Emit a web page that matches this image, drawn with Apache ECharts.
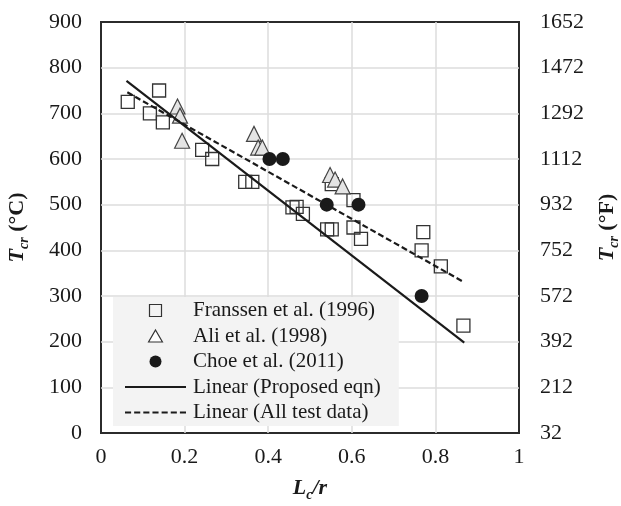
<!DOCTYPE html>
<html>
<head>
<meta charset="utf-8">
<script src="https://cdn.jsdelivr.net/npm/echarts@6/dist/echarts.min.js"></script>
<style>
html,body{margin:0;padding:0;background:#fff;}
#chart{width:621px;height:506px;}
</style>
</head>
<body>
<div id="chart"></div>
<script>
// ---- data ----
var franssenX = [0.064, 0.139, 0.117, 0.148, 0.242, 0.266, 0.345, 0.362, 0.458, 0.468, 0.483, 0.541, 0.552, 0.552, 0.604, 0.604, 0.622, 0.771, 0.767, 0.813, 0.867];
var franssenY = [725, 750, 700, 680, 620, 600, 550, 550, 494, 495, 480, 446, 446, 545, 510, 450, 425, 440, 400, 365, 235];
var aliX = [0.183, 0.189, 0.194, 0.366, 0.376, 0.386, 0.548, 0.560, 0.578];
var aliY = [715, 695, 640, 655, 625, 625, 565, 555, 540];
var choeX = [0.403, 0.435, 0.540, 0.616, 0.767];
var choeY = [600, 600, 500, 500, 300];
var proposedX = [0.061, 0.869];
var proposedY = [771, 198];
var allDataX = [0.063, 0.869];
var allDataY = [746, 330];
var xTicks = ['0', '0.2', '0.4', '0.6', '0.8', '1'];
var cTicks = ['0', '100', '200', '300', '400', '500', '600', '700', '800', '900'];
var fTicks = ['32', '212', '392', '572', '752', '932', '1112', '1292', '1472', '1652'];
var seriesNames = ['Franssen et al. (1996)', 'Ali et al. (1998)', 'Choe et al. (2011)', 'Linear (Proposed eqn)', 'Linear (All test data)'];

function zip(a, b) { return a.map(function (v, i) { return [v, b[i]]; }); }

var FONT = 'Liberation Serif';
var TXT = '#1a1a1a';
var GRIDC = '#dcdcdc';

// legend icons as paths (keep aspect)
var squareIcon = 'path://M0,0h10v10h-10z';
var triangleIcon = 'path://M6,0L12,10.4L0,10.4z';
var solidIcon = 'path://M0,0h60v2.2h-60z';
var dashedIcon = (function () {
  var p = 'path://';
  for (var x = 0; x < 60; x += 9) { p += 'M' + x + ',0h6v2.2h-6z'; }
  return p;
})();

var nameRich = {
  t: { fontFamily: FONT, fontSize: 22, fontWeight: 'bold', fontStyle: 'italic', color: TXT, lineHeight: 28, verticalAlign: 'middle' },
  s: { fontFamily: FONT, fontSize: 14, fontWeight: 'bold', fontStyle: 'italic', color: TXT, lineHeight: 14, verticalAlign: 'bottom' },
  u: { fontFamily: FONT, fontSize: 22, fontWeight: 'bold', color: TXT, lineHeight: 28, verticalAlign: 'middle' }
};

var chart = echarts.init(document.getElementById('chart'), null, { renderer: 'canvas' });

var yBase = {
  type: 'value', min: 0, max: 900, interval: 100,
  axisLine: { show: false }, axisTick: { show: false },
  nameLocation: 'middle', nameRotate: 90,
  nameTextStyle: { rich: nameRich }
};

var option = {
  animation: false,
  backgroundColor: '#fff',
  grid: {
    left: 101, right: 102, top: 22, bottom: 73,
    outerBoundsMode: 'none', containLabel: false,
    show: true, borderColor: '#2b2b2b', borderWidth: 2, backgroundColor: 'transparent'
  },
  xAxis: {
    type: 'value', min: 0, max: 1, interval: 0.2,
    axisLine: { show: false }, axisTick: { show: false },
    splitLine: { show: true, showMinLine: false, showMaxLine: false, lineStyle: { color: GRIDC, width: 1.5 } },
    axisLabel: {
      margin: 13, fontFamily: FONT, fontSize: 22, color: TXT,
      formatter: function (v) { return xTicks[Math.round(v / 0.2)]; }
    },
    name: '{t|L}{s|c}{t|/r}',
    nameLocation: 'middle', nameGap: 41,
    nameTextStyle: { rich: nameRich }
  },
  yAxis: [
    Object.assign({}, yBase, {
      position: 'left',
      name: '{t|T}{s|cr}{u| (°C)}', nameGap: 70,
      splitLine: { show: true, showMinLine: false, showMaxLine: false, lineStyle: { color: GRIDC, width: 1.5 } },
      axisLabel: {
        margin: 19, fontFamily: FONT, fontSize: 22, color: TXT,
        formatter: function (v) { return cTicks[Math.round(v / 100)]; }
      }
    }),
    Object.assign({}, yBase, {
      position: 'right',
      name: '{t|T}{s|cr}{u| (°F)}', nameGap: 74,
      splitLine: { show: false },
      axisLabel: {
        margin: 21, fontFamily: FONT, fontSize: 22, color: TXT,
        formatter: function (v) { return fTicks[Math.round(v / 100)]; }
      }
    })
  ],
  legend: {
    orient: 'vertical', left: 113, top: 297,
    backgroundColor: '#f3f3f3', borderWidth: 0,
    padding: [3, 18, 3, 12],
    itemWidth: 61, itemHeight: 12, itemGap: 4.5,
    symbolKeepAspect: true,
    textStyle: { fontFamily: FONT, fontSize: 21, color: TXT, padding: [0, 0, 0, 2] },
    data: [
      { name: seriesNames[0], icon: squareIcon, itemStyle: { color: 'rgba(255,255,255,0)', borderColor: '#333', borderWidth: 1.2 } },
      { name: seriesNames[1], icon: triangleIcon, itemStyle: { color: '#ffffff', borderColor: '#333', borderWidth: 1.2 } },
      { name: seriesNames[2], icon: 'circle' },
      { name: seriesNames[3], icon: solidIcon },
      { name: seriesNames[4], icon: dashedIcon }
    ]
  },
  series: [
    {
      name: seriesNames[0], type: 'scatter', yAxisIndex: 0,
      symbol: 'rect', symbolSize: 13,
      itemStyle: { color: 'rgba(255,255,255,0)', borderColor: '#333', borderWidth: 1.3, opacity: 1 },
      data: zip(franssenX, franssenY), z: 2
    },
    {
      name: seriesNames[1], type: 'scatter', yAxisIndex: 0,
      symbol: 'triangle', symbolSize: 15,
      itemStyle: { color: '#e4e4e4', borderColor: '#444', borderWidth: 1.2, opacity: 1 },
      data: zip(aliX, aliY), z: 2
    },
    {
      name: seriesNames[2], type: 'scatter', yAxisIndex: 0,
      symbol: 'circle', symbolSize: 14,
      itemStyle: { color: '#1a1a1a', opacity: 1 },
      data: zip(choeX, choeY), z: 2
    },
    {
      name: seriesNames[3], type: 'line', yAxisIndex: 0,
      symbol: 'none', itemStyle: { color: '#1a1a1a' },
      lineStyle: { color: '#1a1a1a', width: 2.2, type: 'solid' },
      data: zip(proposedX, proposedY), z: 3
    },
    {
      name: seriesNames[4], type: 'line', yAxisIndex: 0,
      symbol: 'none', itemStyle: { color: '#1a1a1a' },
      lineStyle: { color: '#1a1a1a', width: 2.2, type: [6, 3] },
      data: zip(allDataX, allDataY), z: 3
    }
  ]
};
chart.setOption(option);
</script>
</body>
</html>
